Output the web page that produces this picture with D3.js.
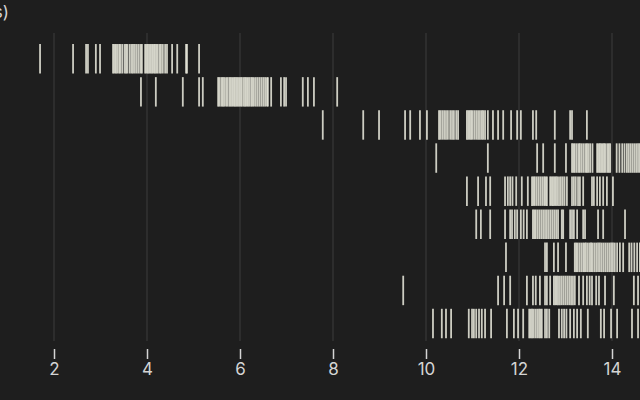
<!DOCTYPE html>
<html>
<head>
<meta charset="utf-8">
<script src="https://cdn.jsdelivr.net/npm/d3@7"></script>
<style>
  html, body { margin: 0; padding: 0; background: #1e1e1e; }
  svg { display: block; }
</style>
</head>
<body>
<svg id="chart" width="640" height="400"></svg>
<script>
// ---- data ----
const categories = ["1", "2", "3", "4", "5", "6", "7", "8", "9"];
const xTicks = [2, 4, 6, 8, 10, 12, 14];
const axisLabel = "Time (s)";

const row1 = [1.70, 2.41, 2.69, 2.73, 2.90, 2.99,
  3.27, 3.30, 3.33, 3.36, 3.40, 3.43, 3.47, 3.52, 3.55, 3.58, 3.63, 3.67, 3.70, 3.74, 3.78, 3.82, 3.86, 3.89,
  3.96, 3.99, 4.02, 4.05, 4.08, 4.11, 4.14, 4.17, 4.20, 4.23, 4.27, 4.30, 4.34,
  4.39, 4.43, 4.54, 4.65, 4.84, 4.86, 5.12];
const row2 = [3.87, 4.19, 4.77, 5.12, 5.20,
  5.53, 5.56, 5.60, 5.63, 5.66, 5.70, 5.73, 5.77, 5.80, 5.83, 5.86, 5.89, 5.92, 5.95, 5.98, 6.01, 6.04, 6.08,
  6.11, 6.14, 6.17, 6.20, 6.24, 6.27, 6.30, 6.34, 6.38, 6.42, 6.46, 6.50, 6.54, 6.58, 6.60,
  6.67, 6.88, 6.95, 6.99, 7.35, 7.46, 7.59, 8.09];
const row3 = [7.78, 8.65, 8.99, 9.55, 9.66, 9.87, 10.02,
  10.28, 10.31, 10.35, 10.39, 10.43, 10.47, 10.52, 10.56, 10.60, 10.65, 10.69,
  10.88, 10.91, 10.94, 10.97, 11.00, 11.04, 11.08, 11.12, 11.16, 11.20, 11.23,
  11.27, 11.33, 11.44, 11.55, 11.66, 11.83, 11.96, 12.04, 12.30, 12.37, 12.77, 13.10, 13.14, 13.46];
const row4 = [10.22, 11.33, 12.39, 12.52, 12.77, 13.01,
  13.14, 13.17, 13.20, 13.24, 13.28, 13.31, 13.35, 13.39, 13.43, 13.46, 13.49, 13.53, 13.58,
  13.68, 13.71, 13.74, 13.77, 13.80, 13.83, 13.86, 13.90, 13.93, 13.96,
  14.10, 14.16, 14.22, 14.27, 14.32, 14.36, 14.40, 14.44, 14.48, 14.52, 14.56, 14.60,
  14.65, 14.70, 14.76, 14.82, 14.90, 15.00];
const row5 = [10.88, 11.12, 11.29, 11.38, 11.70, 11.76, 11.81, 11.86, 11.94, 12.06, 12.19,
  12.28, 12.31, 12.34, 12.38, 12.42, 12.46, 12.50, 12.54, 12.57, 12.60,
  12.67, 12.70, 12.73, 12.76, 12.79, 12.82, 12.86, 12.90, 12.94, 12.98, 13.03,
  13.14, 13.18, 13.22, 13.27, 13.31, 13.38, 13.57, 13.61, 13.68, 13.74, 13.81, 13.89, 14.02];
const row6 = [11.08, 11.18, 11.38, 11.70, 11.81, 11.85, 11.91, 11.96, 12.04, 12.10, 12.17,
  12.30, 12.33, 12.36, 12.40, 12.44, 12.48, 12.52, 12.56, 12.60, 12.64, 12.68, 12.72, 12.76, 12.80, 12.84,
  12.92, 12.95, 13.10, 13.14, 13.18, 13.25, 13.38, 13.42, 13.70, 13.81, 14.28];
const row7 = [11.72, 12.56, 12.60, 12.75, 12.84, 13.01,
  13.20, 13.23, 13.26, 13.30, 13.34, 13.38, 13.41, 13.44, 13.48, 13.52, 13.55, 13.58, 13.62, 13.66, 13.70,
  13.74, 13.78, 13.82, 13.86, 13.90, 13.94, 13.98, 14.02, 14.06, 14.11,
  14.17, 14.24, 14.37, 14.42, 14.48, 14.54, 14.60, 14.70, 14.80];
const row8 = [9.51, 11.55, 11.68, 11.81, 12.17, 12.30, 12.36, 12.45, 12.56, 12.60, 12.67,
  12.75, 12.78, 12.81, 12.84, 12.88, 12.92, 12.96, 13.00, 13.04, 13.08, 13.12, 13.16, 13.20,
  13.29, 13.38, 13.46, 13.52, 13.57, 13.66, 13.72, 13.85, 14.04, 14.47, 14.56];
const row9 = [10.15, 10.34, 10.43, 10.54, 10.92, 10.99, 11.03, 11.08, 11.14, 11.20, 11.27, 11.40,
  11.74, 11.89, 11.98, 12.09,
  12.22, 12.25, 12.28, 12.31, 12.35, 12.39, 12.43, 12.46, 12.49,
  12.56, 12.60, 12.65, 12.86, 12.92, 12.97, 13.02, 13.10, 13.18, 13.25, 13.33, 13.48,
  13.76, 13.83, 13.98, 14.11, 14.43, 14.56];
const rows = [row1, row2, row3, row4, row5, row6, row7, row8, row9];

// ---- drawing ----
const svg = d3.select("#chart");
const x = d3.scaleLinear().domain([2, 14]).range([54, 612]);
const y = d3.scaleBand().domain(categories).range([40.4, 341.9]).padding(0.11);

const fg = "#e6e6da";
const gridColor = "#3c3c3c";
const textColor = "#d4d4d4";
const font = "Inter, 'Noto Sans', sans-serif";

// grid
svg.append("g").selectAll("line").data(xTicks).join("line")
  .attr("x1", d => x(d)).attr("x2", d => x(d))
  .attr("y1", 33).attr("y2", 341)
  .attr("stroke", gridColor).attr("stroke-width", 1);

// barcode ticks
const marks = svg.append("g");
categories.forEach((c, i) => {
  marks.append("g").selectAll("line").data(rows[i]).join("line")
    .attr("x1", d => x(d)).attr("x2", d => x(d))
    .attr("y1", y(c)).attr("y2", y(c) + y.bandwidth())
    .attr("stroke", fg).attr("stroke-width", 1.8).attr("stroke-opacity", 0.88);
});

// x axis
const axis = svg.append("g").attr("transform", "translate(0,349)")
  .call(d3.axisBottom(x).tickValues(xTicks).tickSize(10).tickPadding(4).tickFormat(d3.format("d")));
axis.select(".domain").remove();
axis.selectAll(".tick line").attr("stroke", textColor).attr("stroke-width", 1.5);
axis.selectAll(".tick text").attr("fill", textColor)
  .style("font-family", font).style("font-size", "17px");

// axis label (cut off at left, as in the reference)
svg.append("text")
  .attr("x", 9).attr("y", 18)
  .attr("text-anchor", "end")
  .attr("fill", textColor)
  .style("font-family", font).style("font-size", "17px")
  .text(axisLabel);
</script>
</body>
</html>
